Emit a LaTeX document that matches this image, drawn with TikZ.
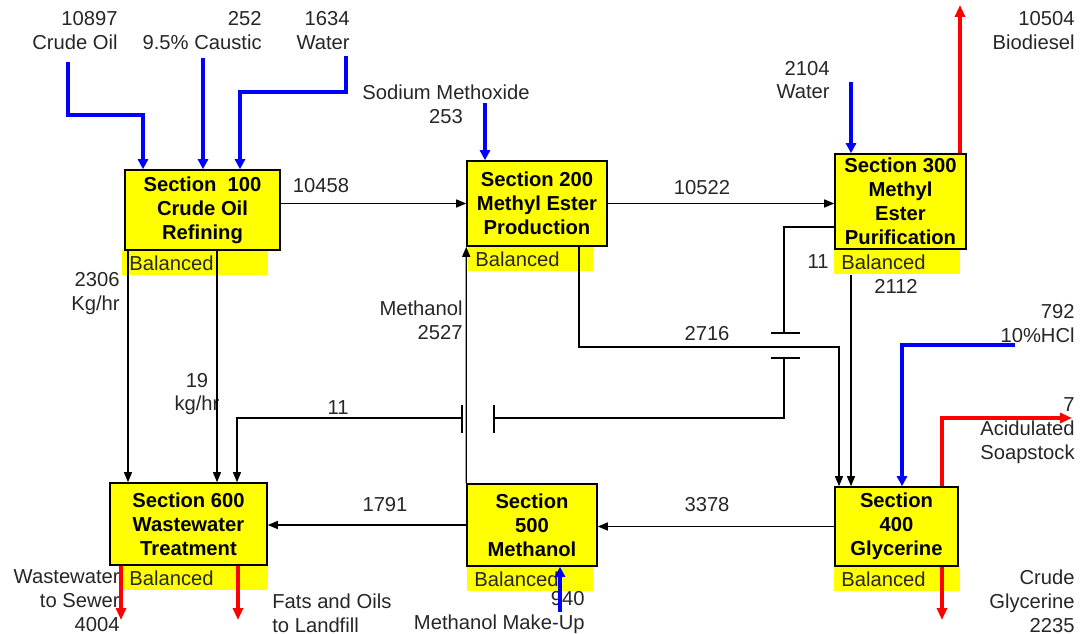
\documentclass[tikz,border=0pt]{standalone}
\usepackage{fontspec}
\setmainfont{Liberation Sans}
\usetikzlibrary{arrows.meta}
\definecolor{pfdyellow}{HTML}{FFFF00}
\definecolor{pfdblue}{HTML}{0000FF}
\definecolor{pfdred}{HTML}{FF0000}
\definecolor{pfdtext}{HTML}{262626}

\begin{document}
\begin{tikzpicture}[
        x=0.02cm, y=-0.02cm,
        every node/.style={font=\fontsize{11.5}{13.6}\selectfont, text=pfdtext},
        sect/.style={
          draw=black, line width=0.9pt, fill=pfdyellow,
          font=\fontsize{11.5}{13.6}\selectfont\bfseries, text=black,
          align=center, inner sep=1pt,
        },
        bal/.style={
          fill=pfdyellow, anchor=north west, align=left,
          inner xsep=0.14cm, inner ysep=0pt, minimum height=0.5cm,
        },
        lbl/.style={inner sep=0pt},
        flow/.style={-{Triangle[length=0.2cm,width=0.16cm]}, draw=black, line width=0.7pt},
        feed/.style={-{Triangle[length=0.2cm,width=0.2cm]}, draw=pfdblue, line width=2pt},
        prod/.style={-{Triangle[length=0.24cm,width=0.2cm]}, draw=pfdred, line width=2pt},
        jump/.style={draw=black, line width=1.2pt},
      ]
      \useasboundingbox (0,0) rectangle (1082,634);

      % balanced strips
      \node[bal, text width=2.64cm] (b100) at (122,250) {Balanced};
      \node[bal, text width=2.22cm] (b200) at (468,246) {Balanced};
      \node[bal, text width=2.24cm] (b300) at (834,249) {Balanced};
      \node[bal, text width=2.24cm] (b400) at (834,566) {Balanced};
      \node[bal, text width=2.24cm] (b500) at (467,566) {Balanced};
      \node[bal, text width=2.64cm] (b600) at (122,565) {Balanced};

      % sections
      \node[sect, minimum width=3.1cm,  minimum height=1.6cm]  (s100) at (202.5,210)   {Section\ \ 100\\Crude Oil\\Refining};
      \node[sect, minimum width=2.8cm,  minimum height=1.7cm]  (s200) at (537,203.5)   {Section 200\\Methyl Ester\\Production};
      \node[sect, minimum width=2.62cm, minimum height=1.9cm]  (s300) at (900.5,201.5) {Section 300\\Methyl\\Ester\\Purification};
      \node[sect, minimum width=2.46cm, minimum height=1.58cm] (s400) at (896.5,526.5) {Section\\400\\Glycerine};
      \node[sect, minimum width=2.6cm,  minimum height=1.64cm] (s500) at (532,525)     {Section\\500\\Methanol};
      \node[sect, minimum width=3.14cm, minimum height=1.64cm] (s600) at (188.5,524)   {Section 600\\Wastewater\\Treatment};

      % labels
      \node[lbl, anchor=east, align=right] (lOil)   at (118,30.5)   {10897\\Crude Oil};
      \node[lbl, anchor=east, align=right] (lCaus)  at (262,30.5)   {252\\9.5\% Caustic};
      \node[lbl, anchor=east, align=right] (lWat)   at (350,30.5)   {1634\\Water};
      \node[lbl, align=center]             (lNaOMe) at (446,104)    {Sodium Methoxide\\253};
      \node[lbl, anchor=east, align=right] (lWat2)  at (830,80)     {2104\\Water};
      \node[lbl, anchor=east, align=right] (lBio)   at (1075,30.5)  {10504\\Biodiesel};
      \node[lbl, anchor=east, align=right] (lHCl)   at (1075,323.5) {792\\10\%HCl};
      \node[lbl, anchor=east, align=right] (lSoap)  at (1075,431)   {7\\Acidulated\\Soapstock};
      \node[lbl, anchor=east, align=right] (lGly)   at (1075,601)   {Crude\\Glycerine\\2235};
      \node[lbl, anchor=east, align=right] (lSew)   at (120,601)    {Wastewater\\to Sewer\\4004};
      \node[lbl, anchor=west, align=left]  (lFat)   at (272,613)    {Fats and Oils\\to Landfill};
      \node[lbl, anchor=east, align=right] (lMU)    at (585,612.5)  {940\\Methanol Make-Up};
      \node[lbl, anchor=east, align=right] (l2306)  at (120,293.5)  {2306\\Kg/hr};
      \node[lbl, align=center]             (l19)    at (197,394)    {19\\kg/hr};
      \node[lbl, anchor=east, align=right] (lMeOH)  at (463,320.5)  {Methanol\\2527};
      \node[lbl] (l10458) at (321,186) {10458};
      \node[lbl] (l10522) at (702,188) {10522};
      \node[lbl] (l11a)   at (338,408) {11};
      \node[lbl] (l2716)  at (707,334) {2716};
      \node[lbl] (l11b)   at (818,262) {11};
      \node[lbl] (l2112)  at (896,286) {2112};
      \node[lbl] (l1791)  at (385,505) {1791};
      \node[lbl] (l3378)  at (707,505) {3378};

      % feed points and bends
      \coordinate (oilin)  at (68,62);
      \coordinate (oilx)   at (143,115);
      \coordinate (causin) at (203,58);
      \coordinate (watin)  at (346,56);
      \coordinate (watx)   at (240,92);
      \coordinate (meoin)  at (485,103);
      \coordinate (wat2in) at (851,82);
      \coordinate (hclin)  at (1015,345);
      \coordinate (hclx)   at (902,345);
      \coordinate (muin)   at (560,612);
      \coordinate (bioout) at (960,5);
      \coordinate (soapx)  at (942,418);
      \coordinate (soapout) at (1072,418);
      \coordinate (glyout) at (942,620);
      \coordinate (sewout) at (121,620);
      \coordinate (fatout) at (238,620);

      % blue feeds
      \draw[feed] (oilin) |- (oilx) -- (oilx |- s100.north);
      \draw[feed] (causin) -- (causin |- s100.north);
      \draw[feed] (watin) |- (watx) -- (watx |- s100.north);
      \draw[feed] (meoin) -- (meoin |- s200.north);
      \draw[feed] (wat2in) -- (wat2in |- s300.north);
      \draw[feed] (hclin) -- (hclx) -- (hclx |- s400.north);
      \draw[feed] (muin) -- (muin |- s500.south);

      % red products
      \draw[prod] (bioout |- s300.north) -- (bioout);
      \draw[prod] (soapx |- s400.north) -- (soapx) -- (soapout);
      \draw[prod] (glyout |- s400.south) -- (glyout);
      \draw[prod] (sewout |- s600.south) -- (sewout);
      \draw[prod] (fatout |- s600.south) -- (fatout);

      % internal streams
      \coordinate (w1) at (128,0);
      \coordinate (w2) at (217,0);
      \coordinate (r1) at (579,347);
      \coordinate (r2) at (839,347);
      \coordinate (g1) at (851,0);
      \draw[flow] (s100.east |- s200.west) -- (s200.west);
      \draw[flow] (s200.east) -- (s200.east -| s300.west);
      \draw[flow] (w1 |- s100.south) -- (w1 |- s600.north);
      \draw[flow] (w2 |- s100.south) -- (w2 |- s600.north);
      \draw[flow] (r1 |- s200.south) -- (r1) -- (r2) -- (r2 |- s400.north);
      \draw[flow] (g1 |- b300.south) -- (g1 |- s400.north);
      \draw[flow] (s500.north west) -- (s200.south west);
      \draw[flow] (s500.west) -- (s500.west -| s600.east);
      \draw[flow] (s400.west) -- (s400.west -| s500.east);

      % 11 kg/hr recycle with line jumps
      \coordinate (k1) at (784,227);
      \coordinate (k2) at (784,333);
      \coordinate (k3) at (784,358);
      \coordinate (k4) at (784,418);
      \coordinate (k5) at (494,418);
      \coordinate (k6) at (462,418);
      \coordinate (k7) at (237,418);
      \draw[flow, -] (k1 -| s300.west) -- (k1) -- (k2);
      \draw[flow, -] (k3) -- (k4) -- (k5);
      \draw[flow] (k6) -- (k7) -- (k7 |- s600.north);
      \draw[jump] (771,333) -- (800,333);
      \draw[jump] (771,358) -- (800,358);
      \draw[jump] (494,405) -- (494,433);
      \draw[jump] (462,405) -- (462,433);
    \end{tikzpicture}
\end{document}
